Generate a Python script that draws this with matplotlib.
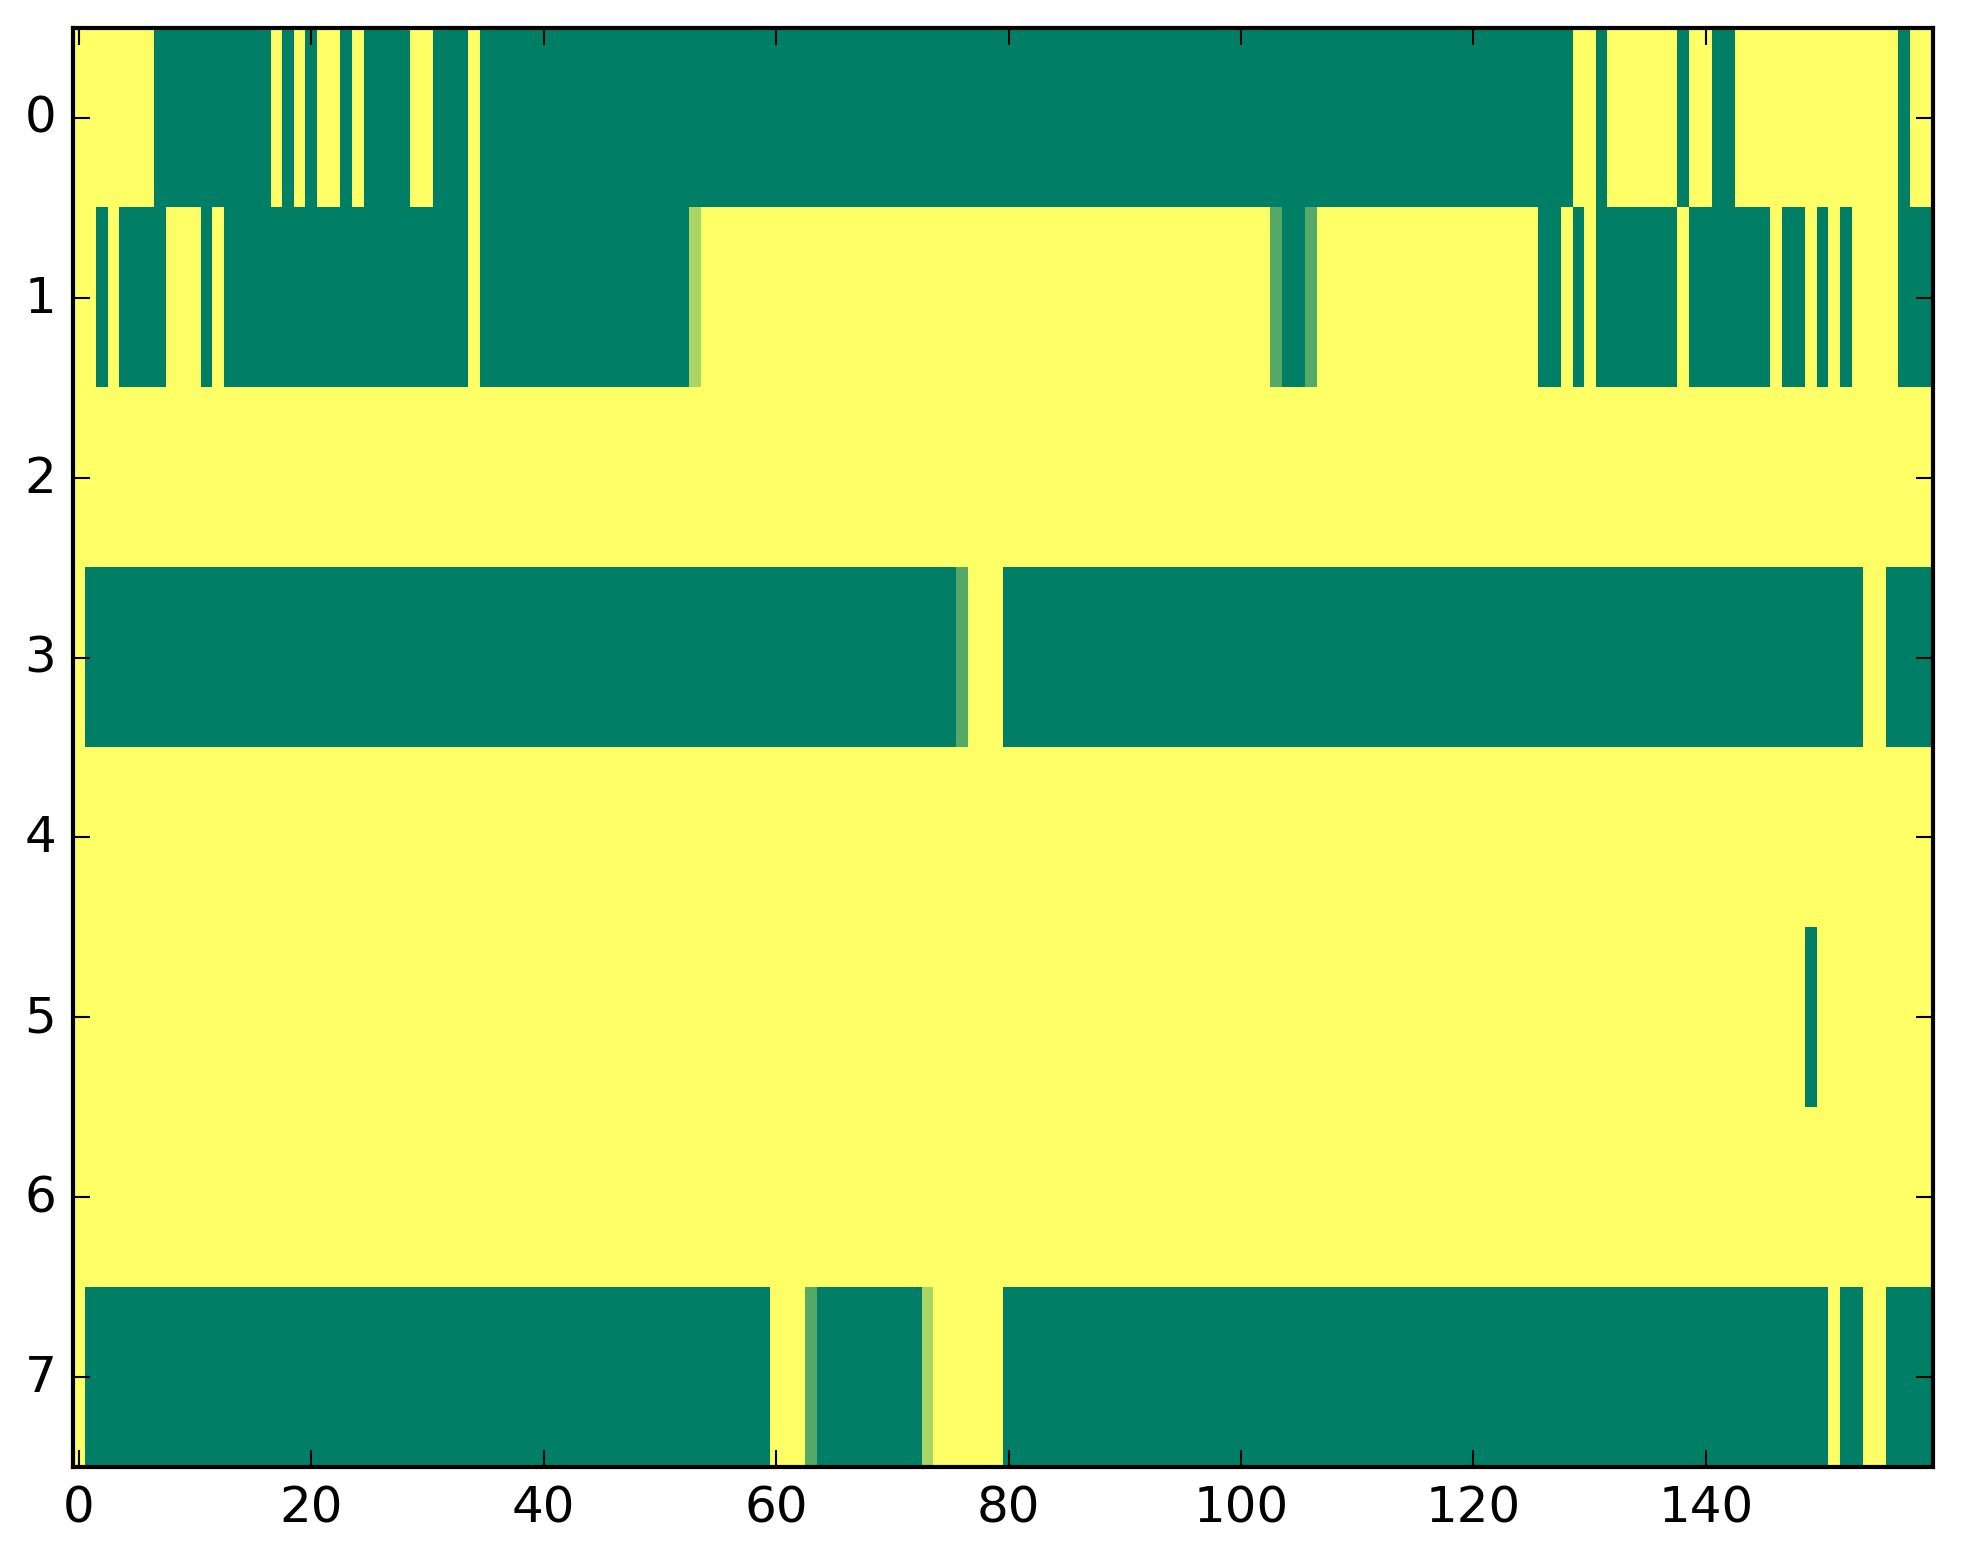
import numpy as np
import matplotlib
matplotlib.use("Agg")
import matplotlib.pyplot as plt

# each row as runs of (value, count), read left to right
row0 = [(1, 7), (0, 10), (1, 1), (0, 1), (1, 1), (0, 1), (1, 2), (0, 1), (1, 1),
        (0, 4), (1, 2), (0, 3), (1, 1), (0, 94), (1, 2), (0, 1), (1, 6), (0, 1),
        (1, 2), (0, 2), (1, 14), (0, 1), (1, 2)]
row1 = [(1, 2), (0, 1), (1, 1), (0, 4), (1, 3), (0, 1), (1, 1), (0, 21), (1, 1),
        (0, 18), (0.67, 1), (1, 49), (0.33, 1), (0, 2), (0.33, 1), (1, 19), (0, 2),
        (1, 1), (0, 1), (1, 1), (0, 7), (1, 1), (0, 7), (1, 1), (0, 2), (1, 1),
        (0, 1), (1, 1), (0, 1), (1, 4), (0, 3)]
row2 = [(1, 160)]
row3 = [(1, 1), (0, 75), (0.33, 1), (1, 3), (0, 74), (1, 2), (0, 4)]
row4 = [(1, 160)]
row5 = [(1, 149), (0, 1), (1, 10)]
row6 = [(1, 160)]
row7 = [(1, 1), (0, 59), (1, 3), (0.33, 1), (0, 9), (0.67, 1), (1, 6), (0, 71),
        (1, 1), (0, 2), (1, 2), (0, 4)]

rows = [row0, row1, row2, row3, row4, row5, row6, row7]


def expand(runs):
	out = []
	for v, n in runs:
		out += [v] * n
	return out


data = np.array([expand(r) for r in rows])

plt.style.use("classic")
fig = plt.figure(figsize=(1963 / 300, 1564 / 300), dpi=300, facecolor="white")
ax = fig.add_axes([0.0372, 0.0614, 0.9473, 0.9201])
ax.imshow(data, cmap="summer", aspect="auto", interpolation="nearest")
ax.set_yticks(range(8))
ax.set_xticks(range(0, 160, 20))
ax.set_xlim(-0.5, 159.5)
ax.set_ylim(7.5, -0.5)

fig.savefig("out.png", dpi=300, facecolor="white")
